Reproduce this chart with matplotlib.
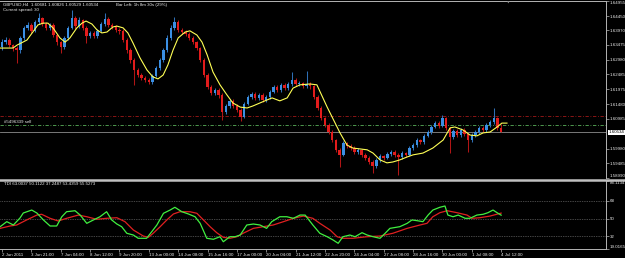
import matplotlib
matplotlib.use("Agg")
import matplotlib.pyplot as plt
from matplotlib.lines import Line2D

plt.rcParams["font.family"] = ["Liberation Sans", "DejaVu Sans"]

# ---------------- data ----------------
opens = [1.6341,1.6357,1.6364,1.6347,1.6337,1.6330,1.6371,1.6405,1.6415,1.6395,
1.6425,1.6438,1.6418,1.6405,1.6415,1.6381,1.6357,1.6341,1.6371,1.6405,
1.6438,1.6411,1.6432,1.6405,1.6378,1.6388,1.6378,1.6395,1.6418,1.6435,
1.6415,1.6408,1.6398,1.6395,1.6364,1.6330,1.6297,1.6263,1.6246,1.6236,
1.6229,1.6223,1.6243,1.6270,1.6297,1.6330,1.6371,1.6405,1.6425,1.6398,
1.6391,1.6384,1.6371,1.6357,1.6337,1.6297,1.6246,1.6206,1.6186,1.6196,
1.6179,1.6122,1.6142,1.6159,1.6142,1.6128,1.6105,1.6149,1.6172,1.6182,
1.6169,1.6179,1.6162,1.6172,1.6189,1.6206,1.6196,1.6213,1.6202,1.6216,
1.6229,1.6216,1.6219,1.6209,1.6216,1.6209,1.6172,1.6135,1.6101,1.6078,
1.6054,1.6027,1.5994,1.5977,1.6017,1.6007,1.6000,1.5987,1.5994,1.5977,
1.5967,1.5953,1.5940,1.5960,1.5973,1.5967,1.5980,1.5987,1.5977,1.5970,
1.5983,1.5977,1.6000,1.6010,1.6027,1.6020,1.6041,1.6054,1.6071,1.6084,
1.6074,1.6101,1.6068,1.6037,1.6058,1.6044,1.6061,1.6047,1.6027,1.6044,
1.6054,1.6068,1.6061,1.6078,1.6088,1.6101,1.60681]

closes = [1.6357,1.6364,1.6347,1.6337,1.6330,1.6371,1.6405,1.6415,1.6395,1.6425,
1.6438,1.6418,1.6405,1.6415,1.6381,1.6357,1.6341,1.6371,1.6405,1.6438,
1.6411,1.6432,1.6405,1.6378,1.6388,1.6378,1.6395,1.6418,1.6435,1.6415,
1.6408,1.6398,1.6395,1.6364,1.6330,1.6297,1.6263,1.6246,1.6236,1.6229,
1.6223,1.6243,1.6270,1.6297,1.6330,1.6371,1.6405,1.6425,1.6398,1.6391,
1.6384,1.6371,1.6357,1.6337,1.6297,1.6246,1.6206,1.6186,1.6196,1.6179,
1.6122,1.6142,1.6159,1.6142,1.6128,1.6105,1.6149,1.6172,1.6182,1.6169,
1.6179,1.6162,1.6172,1.6189,1.6206,1.6196,1.6213,1.6202,1.6216,1.6229,
1.6216,1.6219,1.6209,1.6216,1.6209,1.6172,1.6135,1.6101,1.6078,1.6054,
1.6027,1.5994,1.5977,1.6017,1.6007,1.6000,1.5987,1.5994,1.5977,1.5967,
1.5953,1.5940,1.5960,1.5973,1.5967,1.5980,1.5987,1.5977,1.5970,1.5983,
1.5977,1.6000,1.6010,1.6027,1.6020,1.6041,1.6054,1.6071,1.6084,1.6074,
1.6101,1.6068,1.6037,1.6058,1.6044,1.6061,1.6047,1.6027,1.6044,1.6054,
1.6068,1.6061,1.6078,1.6088,1.6101,1.60681,1.60534]

highs = [1.6368,1.6375,1.6372,1.6352,1.6345,1.6378,1.6412,1.6425,1.6420,1.6432,
1.6455,1.6442,1.6425,1.6422,1.6420,1.6386,1.6362,1.6378,1.6412,1.6465,
1.6445,1.6440,1.6436,1.6410,1.6395,1.6394,1.6402,1.6426,1.6455,1.6440,
1.6422,1.6414,1.6405,1.6400,1.6370,1.6336,1.6302,1.6270,1.6252,1.6244,
1.6236,1.6250,1.6276,1.6304,1.6338,1.6380,1.6414,1.6440,1.6430,1.6405,
1.6398,1.6390,1.6377,1.6362,1.6342,1.6302,1.6252,1.6212,1.6204,1.6202,
1.6185,1.6150,1.6166,1.6164,1.6148,1.6134,1.6156,1.6180,1.6190,1.6188,
1.6186,1.6184,1.6180,1.6196,1.6214,1.6212,1.6220,1.6218,1.6224,1.6256,
1.6235,1.6226,1.6224,1.6260,1.6222,1.6214,1.6178,1.6140,1.6106,1.6084,
1.6060,1.6032,1.6000,1.6024,1.6022,1.6012,1.6006,1.6000,1.5998,1.5982,
1.5972,1.5958,1.5966,1.5980,1.5978,1.5986,1.5994,1.5992,1.5982,1.5990,
1.5988,1.6006,1.6018,1.6034,1.6032,1.6048,1.6062,1.6078,1.6092,1.6090,
1.6111,1.6106,1.6072,1.6065,1.6064,1.6068,1.6066,1.6052,1.6050,1.6060,
1.6075,1.6074,1.6085,1.6095,1.6135,1.6106,1.60826]

lows = [1.6332,1.6350,1.6340,1.6328,1.6287,1.6322,1.6365,1.6398,1.6388,1.6390,
1.6418,1.6410,1.6398,1.6398,1.6375,1.6348,1.6320,1.6335,1.6365,1.6400,
1.6402,1.6405,1.6398,1.6354,1.6370,1.6370,1.6372,1.6390,1.6412,1.6408,
1.6400,1.6390,1.6386,1.6358,1.6322,1.6288,1.6213,1.6238,1.6228,1.6222,
1.6215,1.6216,1.6238,1.6264,1.6290,1.6325,1.6365,1.6398,1.6392,1.6384,
1.6376,1.6364,1.6350,1.6330,1.6290,1.6238,1.6198,1.6178,1.6180,1.6170,
1.6095,1.6115,1.6136,1.6135,1.6120,1.6091,1.6100,1.6144,1.6166,1.6162,
1.6162,1.6155,1.6156,1.6166,1.6184,1.6190,1.6190,1.6195,1.6196,1.6210,
1.6210,1.6210,1.6202,1.6204,1.6200,1.6165,1.6128,1.6094,1.6070,1.6046,
1.6020,1.5986,1.5936,1.5972,1.6000,1.5994,1.5980,1.5980,1.5970,1.5960,
1.5946,1.5916,1.5934,1.5954,1.5960,1.5962,1.5974,1.5970,1.5909,1.5964,
1.5970,1.5972,1.5994,1.6004,1.6012,1.6014,1.6036,1.6048,1.6066,1.6068,
1.6070,1.6060,1.5983,1.6030,1.6036,1.6038,1.6040,1.5987,1.6020,1.6038,
1.6048,1.6055,1.6055,1.6072,1.6082,1.6062,1.60529]

# yellow moving average (bar position, price)
ma_pos = [-0.5,3.0,4.1,5.7,6.8,8.4,9.8,11.2,12.5,13.9,15.8,17.2,18.5,20.4,21.8,22.9,
24.5,25.9,27.2,28.6,30.2,31.3,33.0,34.3,35.7,37.6,39.5,41.1,42.5,43.9,45.2,46.6,
48.0,49.9,51.2,53.1,54.5,55.9,57.5,59.4,61.3,62.9,64.9,66.8,68.4,70.3,72.2,73.6,
75.7,77.7,79.3,81.2,83.9,85.8,88.6,91.3,92.1,94.0,95.6,99.5,101.1,103.0,104.9,
106.5,108.4,110.4,112.0,114.7,117.4,120.2,122.1,123.4,125.6,127.5,129.4,131.1,
133.0,134.9,136.2,137.6]
ma_val = [1.6337,1.6337,1.6347,1.6357,1.6364,1.6391,1.6415,1.6421,1.6421,1.6405,
1.6371,1.6357,1.6371,1.6405,1.6421,1.6428,1.6418,1.6398,1.6388,1.6391,1.6408,
1.6411,1.6405,1.6388,1.6354,1.6304,1.6263,1.6240,1.6233,1.6246,1.6280,1.6330,
1.6371,1.6391,1.6395,1.6381,1.6357,1.6314,1.6256,1.6213,1.6179,1.6152,1.6138,
1.6135,1.6142,1.6152,1.6162,1.6169,1.6159,1.6169,1.6202,1.6213,1.6216,1.6213,
1.6138,1.6071,1.6051,1.6010,1.6000,1.5994,1.5983,1.5960,1.5950,1.5953,1.5960,
1.5970,1.5977,1.5983,1.6000,1.6027,1.6068,1.6071,1.6061,1.6044,1.6041,1.6051,
1.6054,1.6071,1.6084,1.6084]

# TDI lines (bar position, value)
tdi_green_pos = [-0.5,1.3,3.1,4.9,5.8,8.1,9.5,11.3,13.1,14.9,16.3,17.6,19.9,21.3,23.1,
24.9,26.7,28.5,29.9,31.3,32.6,34.0,35.8,37.1,39.4,40.8,42.2,44.0,45.8,47.1,49.0,
50.8,52.6,54.0,55.8,57.6,59.4,60.3,62.1,63.5,64.9,66.7,68.5,70.3,72.1,73.5,75.7,
77.6,79.4,81.2,82.6,84.7,86.6,88.6,90.2,91.6,92.9,94.8,96.2,98.1,99.5,101.1,103.0,
104.4,105.7,108.4,110.4,111.7,113.1,114.7,116.1,117.4,119.3,120.7,121.5,122.9,
124.3,126.2,127.5,129.4,131.1,132.4,133.8,134.9,136.0]
tdi_green_val = [41.7,46.8,43.4,50.5,55.6,58.6,55.6,48.5,42.4,42.4,51.8,56.9,57.9,53.5,
45.1,48.5,51.8,56.9,48.5,44.4,41.7,35.0,33.2,29.9,29.9,36.6,43.4,55.3,58.6,61.4,56.9,
54.6,51.8,45.1,29.9,28.9,31.5,26.4,31.5,31.5,33.2,43.4,44.4,43.4,40.0,46.8,51.8,
51.8,50.2,53.5,53.5,43.4,35.0,31.5,28.2,24.8,31.5,33.2,31.5,35.6,33.2,31.5,29.9,
35.0,40.0,41.7,45.1,48.5,47.8,46.8,53.5,58.6,61.4,62.7,53.5,51.8,
53.5,50.2,50.2,53.5,54.3,55.9,58.6,55.9,53.4]
tdi_red_pos = [-0.5,2.2,4.0,6.7,9.5,10.8,13.1,15.3,17.6,20.8,23.1,25.8,28.5,31.3,33.5,
35.8,38.5,39.9,41.2,43.1,44.9,46.7,48.5,51.2,53.1,54.9,56.7,58.5,60.3,62.1,64.0,
65.7,68.5,71.2,73.9,76.7,79.4,82.1,84.7,86.6,89.4,91.3,92.9,95.6,99.5,103.0,106.5,
110.4,113.9,115.8,117.4,119.3,121.3,124.0,126.7,128.1,130.2,133.0,136.0]
tdi_red_val = [40.0,42.4,43.4,48.5,53.5,54.3,50.2,47.5,50.2,53.5,51.8,49.2,50.2,50.8,
46.8,38.3,32.2,30.9,35.0,41.7,48.5,54.6,56.9,56.9,55.3,48.5,41.7,35.6,30.9,29.9,
31.5,35.0,40.0,41.7,43.4,46.8,50.2,52.5,50.2,45.1,38.3,31.5,29.9,29.9,31.5,32.2,
35.0,40.0,43.4,45.1,51.8,55.9,57.9,55.9,53.5,50.2,50.8,52.5,55.5]
tdi_levels = [68, 50, 32]

price_ticks = [1.64955,1.64450,1.63970,1.63475,1.62980,1.62485,1.61975,1.61480,
               1.60985,1.59980,1.59485,1.58990]
price_labels = ["1.64955","1.64450","1.63970","1.63475","1.62980","1.62485","1.61975",
                "1.61480","1.60985","1.59980","1.59485","1.58990"]
time_pos = [0,8,16,24,32,40,48,56,64,72,80,88,96,104,112,120,128,136]
time_labels = ["2 Jun 2011","3 Jun 21:00","7 Jun 04:00","8 Jun 12:00","9 Jun 20:00",
               "13 Jun 00:00","14 Jun 08:00","15 Jun 16:00","17 Jun 00:00","20 Jun 04:00",
               "21 Jun 12:00","22 Jun 20:00","24 Jun 04:00","27 Jun 08:00","28 Jun 16:00",
               "30 Jun 00:00","1 Jul 08:00","4 Jul 12:00"]
bid_price = 1.60534
order_price = 1.6077
stop_price = 1.6108
order_label = "#5496339 sell"
header1 = "GBPUSD,H4  1.60681 1.60826 1.60529 1.60534"
header2 = "Current spread: 30"
header3 = "Bar Left: 1h 8m 30s (29%)"
tdi_header = "TDI 63.0037 50.1122 37.2487 53.4359 55.5273"
tdi_top, tdi_bottom = 88.1134, 19.0165

# ---------------- styling ----------------
W, H = 625, 258
BG = "black"
AX = "#b4b4b4"
TXT = "#ececec"
BULL = "#3b8fe3"
BEAR = "#e21c1c"
BULL_W = "#2f6fb5"
BEAR_W = "#b01515"
FS = 3.2

fig = plt.figure(figsize=(W / 100, H / 100), dpi=100, facecolor=BG)

def fy(py):
    return 1 - py / H

xl = (-2 / 3.67, (606 - 2) / 3.67)
ax1 = fig.add_axes([0, fy(178), 606 / W, 177 / H], facecolor=BG)
ax2 = fig.add_axes([0, fy(249), 606 / W, 68 / H], facecolor=BG)

# --- candles ---
xs = list(range(len(closes)))
for i in xs:
    o, c, h, l = opens[i], closes[i], highs[i], lows[i]
    up = c >= o
    ax1.vlines(i, l, h, color=BULL_W if up else BEAR_W, lw=0.75, zorder=2)
    bot, top = min(o, c), max(o, c)
    ax1.bar(i, max(top - bot, 0.00008), bottom=bot, width=0.65,
            color=BULL if up else BEAR, linewidth=0, zorder=3)

ax1.plot(ma_pos, ma_val, color="#ffff55", lw=0.8, zorder=4)

# horizontal lines
ax1.axhline(stop_price, color="#a01818", lw=0.6, ls=(0, (4, 2, 1, 2)), zorder=1)
ax1.axhline(order_price, color="#5ab05a", lw=0.6, ls=(0, (4, 2, 1, 2)), zorder=1)
ax1.axhline(bid_price, color="#8c8c8c", lw=0.6, zorder=1)
ax1.text(0.5, order_price + 0.00035, order_label, color=TXT, fontsize=FS,
         va="bottom", ha="left", zorder=5)

ax1.set_xlim(*xl)
ax1.set_ylim(1.58991, 1.64956)
ax1.yaxis.tick_right()
ax1.set_yticks(price_ticks)
ax1.set_yticklabels(price_labels)
ax1.tick_params(axis="y", colors=AX, labelcolor=TXT, labelsize=FS, length=2,
                width=0.5, pad=0.8)
yl = ax1.get_yticklabels()
yl[0].set_va("top")
yl[-1].set_va("bottom")
ax1.set_xticks([])
for s in ["left", "bottom"]:
    ax1.spines[s].set_visible(False)
for s in ["top", "right"]:
    ax1.spines[s].set_color(AX)
    ax1.spines[s].set_linewidth(0.7)

ax1.annotate(f"{bid_price:.5f}", xy=(1.0, bid_price), xycoords=("axes fraction", "data"),
             xytext=(1.6, 0), textcoords="offset points", fontsize=FS, color="black",
             va="center", ha="left",
             bbox=dict(boxstyle="square,pad=0.12", fc="white", ec="white", lw=0))

# header texts
fig.text(3 / W, fy(5), header1, color=TXT, fontsize=FS, va="center", ha="left")
fig.text(3 / W, fy(9.8), header2, color=TXT, fontsize=FS, va="center", ha="left")
fig.text(116 / W, fy(5), header3, color=TXT, fontsize=FS, va="center", ha="left")
fig.text(508 / W, fy(2.5), "\u25BC", color="#909090", fontsize=2.5, va="center",
         ha="center", family="DejaVu Sans")

# --- TDI panel ---
for lv in tdi_levels:
    ax2.axhline(lv, color="#8a8a8a", lw=0.5, ls=(0, (1, 1.5)), zorder=1)
ax2.plot(tdi_red_pos, tdi_red_val, color="#e02020", lw=0.9, zorder=3)
ax2.plot(tdi_green_pos, tdi_green_val, color="#40f040", lw=0.9, zorder=4)
ax2.set_xlim(*xl)
ax2.set_ylim(tdi_bottom, tdi_top)
ax2.yaxis.tick_right()
ax2.set_yticks([tdi_top] + tdi_levels + [tdi_bottom])
ax2.set_yticklabels([f"{tdi_top:.4f}"] + [str(v) for v in tdi_levels] + [f"{tdi_bottom:.4f}"])
ax2.tick_params(axis="y", colors=AX, labelcolor=TXT, labelsize=FS, length=2,
                width=0.5, pad=0.8)
lbls = ax2.get_yticklabels()
lbls[0].set_va("top")
lbls[-1].set_va("bottom")
ax2.set_xticks(time_pos)
ax2.set_xticklabels(time_labels, ha="left")
ax2.tick_params(axis="x", colors=AX, labelcolor=TXT, labelsize=FS, length=2,
                width=0.5, pad=0.8)
ax2.spines["left"].set_visible(False)
ax2.spines["top"].set_visible(False)
for s in ["bottom", "right"]:
    ax2.spines[s].set_color(AX)
    ax2.spines[s].set_linewidth(0.7)
ax2.text(0.5, tdi_top - 1.5, tdi_header, color=TXT, fontsize=FS, va="top", ha="left")

# window separator
fig.add_artist(Line2D([0, 1], [fy(179.6), fy(179.6)], transform=fig.transFigure,
                      color="#c0c0c0", lw=1.8))

fig.savefig("out.png", dpi=100, facecolor=BG)
